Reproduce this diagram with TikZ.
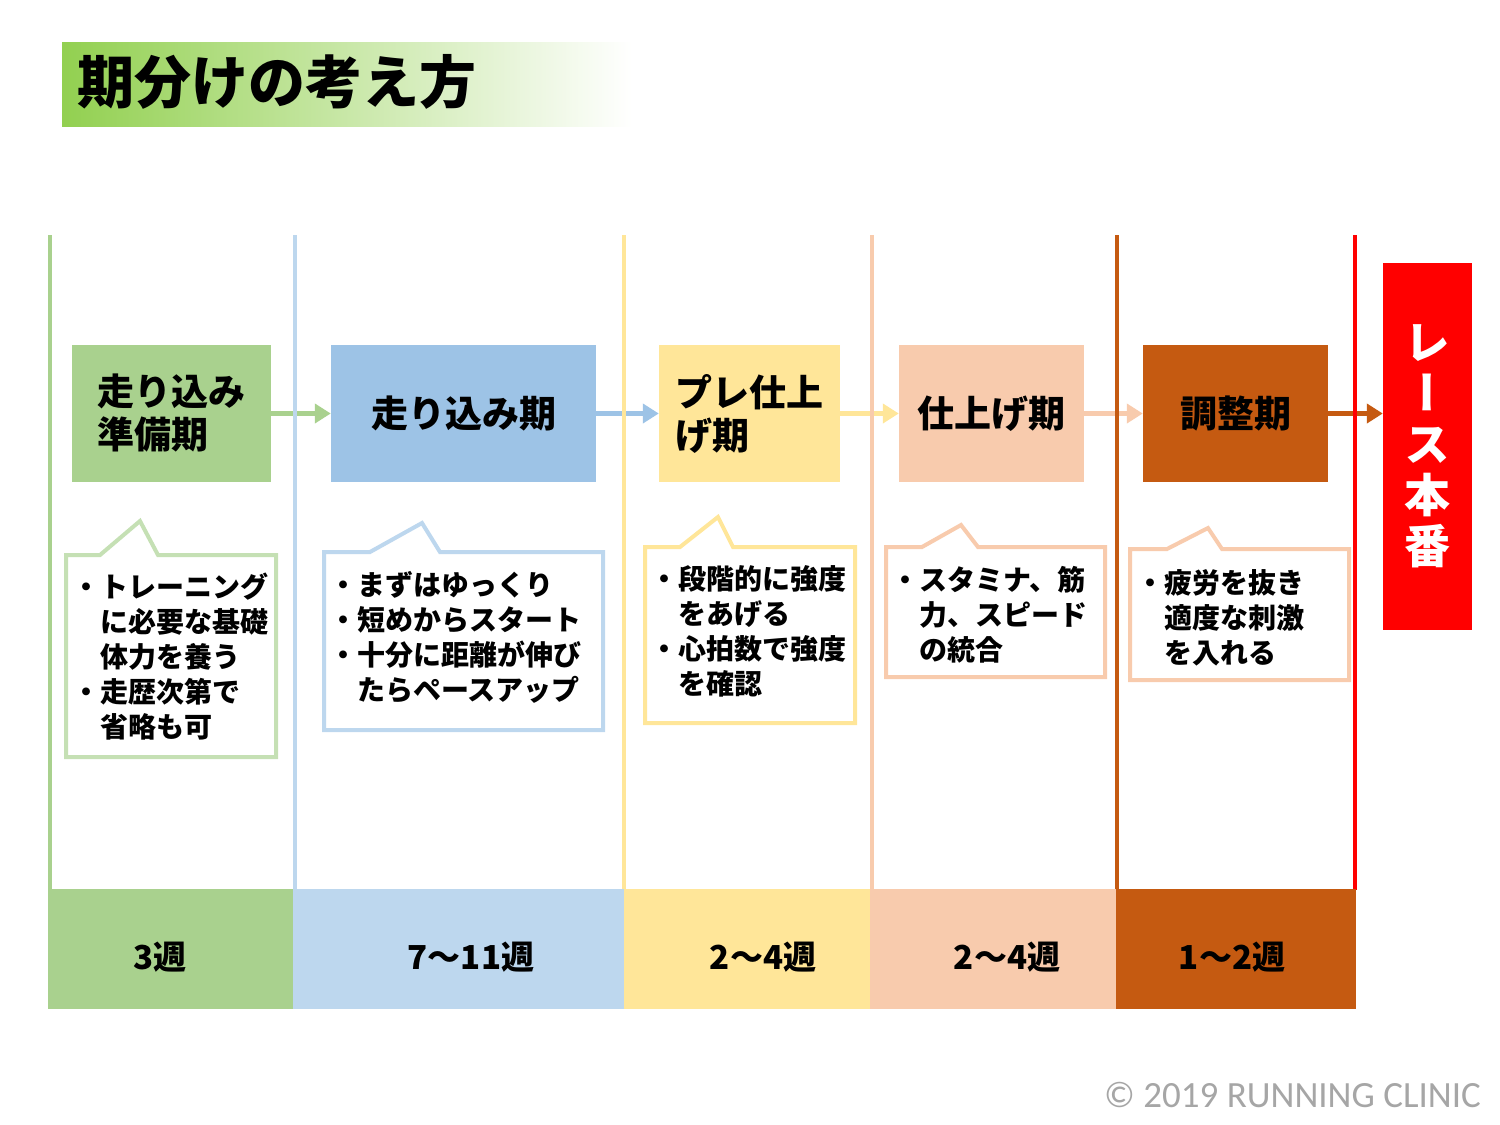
\documentclass[tikz,border=0pt]{standalone}
\usepackage{fontspec}
\setmainfont{Noto Sans CJK JP}
\newfontfamily\latinfont{Carlito}
\newfontfamily\vertfont{Noto Sans CJK JP}[RawFeature=+vert]
\usepackage{tikz}
\usetikzlibrary{positioning,arrows.meta,calc}
\definecolor{titlegreen}{RGB}{146,208,80}
\definecolor{phasegreen}{RGB}{169,209,142}
\definecolor{phaseblue}{RGB}{157,195,230}
\definecolor{lightblue}{RGB}{189,215,238}
\definecolor{phaseyellow}{RGB}{255,230,153}
\definecolor{phasepeach}{RGB}{248,203,173}
\definecolor{phasebrown}{RGB}{197,90,17}
\definecolor{racered}{RGB}{255,0,0}
\definecolor{notegreen}{RGB}{197,224,180}
\definecolor{copygray}{RGB}{166,166,166}

\begin{document}
\begin{tikzpicture}[x=1pt,y=-1pt,
    phase/.style={minimum height=137pt,align=left,inner sep=0pt,font=\fontsize{37}{43}\selectfont\bfseries},
    weekbar/.style={minimum height=120pt,inner sep=0pt,anchor=north west},
    weeklabel/.style={font=\fontsize{33}{40}\selectfont\bfseries},
    bubble/.style={line width=4pt,fill=white,line join=miter},
    note/.style={anchor=base west,align=left,inner sep=0pt,font=\fontsize{28}{35}\selectfont\bfseries},
    flow/.style={-{Triangle[length=16pt,width=19pt]},line width=4.5pt},
    divider/.style={line width=3.5pt}]
    \useasboundingbox (0,0) rectangle (1500,1125);
    % title
    \shade[left color=titlegreen,right color=white] (62,42) rectangle (632,126);
    \node[anchor=west,inner sep=0pt,font=\fontsize{57}{60}\selectfont\bfseries] (title) at (77,82) {期分けの考え方};
    % phases
    \node[phase,fill=phasegreen,minimum width=199pt] (p1) at (171.5,413.5) {走り込み\\準備期\hspace*{14pt}};
    \node[phase,fill=phaseblue,minimum width=265pt] (p2) at (463.5,413.5) {走り込み期};
    \node[phase,fill=phaseyellow,minimum width=181pt] (p3) at (749.5,413.5) {プレ仕上\\げ期};
    \node[phase,fill=phasepeach,minimum width=185pt] (p4) at (991.5,413.5) {仕上げ期};
    \node[phase,fill=phasebrown,minimum width=185pt] (p5) at (1235.5,413.5) {調整期};
    \node[fill=racered,minimum width=89pt,minimum height=367pt,align=center,inner sep=0pt,text=white,
      font=\vertfont\fontsize{46}{51}\selectfont\bfseries] (race) at (1427.5,446.5) {レ\\ー\\ス\\本\\番};
    \foreach \a/\b/\c in {p1/p2/phasegreen,p2/p3/phaseblue,p3/p4/phaseyellow,p4/p5/phasepeach}{\draw[flow,draw=\c,fill=\c] (\a)--(\b);}
    \draw[flow,draw=phasebrown,fill=phasebrown] (p5.east)--(p5.east -| race.west);
    % dividers
    \draw[divider,phasegreen] (50,235)--(50,890);
    \draw[divider,lightblue] (295,235)--(295,890);
    \draw[divider,phaseyellow] (624,235)--(624,890);
    \draw[divider,phasepeach] (872,235)--(872,890);
    \draw[divider,phasebrown] (1117,235)--(1117,890);
    \draw[divider,racered,line width=4pt] (1355,235)--(1355,890);
    % notes
    \draw[bubble,draw=notegreen] (66,555)--(100,555)--(140,521)--(158,555)--(276,555)--(276,757)--(66,757)--cycle;
    \draw[bubble,draw=lightblue] (324,552)--(370,552)--(422,523)--(440,552)--(603,552)--(603,730)--(324,730)--cycle;
    \draw[bubble,draw=phaseyellow] (645,547)--(680,547)--(718,517)--(733,547)--(855,547)--(855,723)--(645,723)--cycle;
    \draw[bubble,draw=phasepeach] (886,547)--(922,547)--(961,525)--(978,547)--(1105,547)--(1105,677)--(886,677)--cycle;
    \draw[bubble,draw=phasepeach] (1130,549)--(1167,549)--(1208,528)--(1222,549)--(1349,549)--(1349,680)--(1130,680)--cycle;
    \node[note] (n1) at (72,737) {・トレーニング\\\hphantom{・}に必要な基礎\\\hphantom{・}体力を養う\\・走歴次第で\\\hphantom{・}省略も可};
    \node[note] (n2) at (329,700) {・まずはゆっくり\\・短めからスタート\\・十分に距離が伸び\\\hphantom{・}たらペースアップ};
    \node[note] (n3) at (650,694) {・段階的に強度\\\hphantom{・}をあげる\\・心拍数で強度\\\hphantom{・}を確認};
    \node[note] (n4) at (891,660) {・スタミナ、筋\\\hphantom{・}力、スピード\\\hphantom{・}の統合};
    \node[note] (n5) at (1136,663) {・疲労を抜き\\\hphantom{・}適度な刺激\\\hphantom{・}を入れる};
    % weeks
    \node[weekbar,fill=phasegreen,minimum width=246pt] (w1) at (48,889) {};
    \node[weekbar,fill=lightblue,minimum width=331pt] (w2) at (293,889) {};
    \node[weekbar,fill=phaseyellow,minimum width=246pt] (w3) at (624,889) {};
    \node[weekbar,fill=phasepeach,minimum width=246pt] (w4) at (870,889) {};
    \node[weekbar,fill=phasebrown,minimum width=240pt] (w5) at (1116,889) {};
    \node[weeklabel] (l1) at (160,957) {3週};
    \node[weeklabel] (l2) at (471,957) {7〜11週};
    \node[weeklabel] (l3) at (763,957) {2〜4週};
    \node[weeklabel] (l4) at (1007,957) {2〜4週};
    \node[weeklabel] (l5) at (1232,957) {1〜2週};
    \node[anchor=east,inner sep=0pt,text=copygray,font=\latinfont\fontsize{37}{40}\selectfont] (copy) at (1481,1095) {© 2019 RUNNING CLINIC};
\end{tikzpicture}
\end{document}
